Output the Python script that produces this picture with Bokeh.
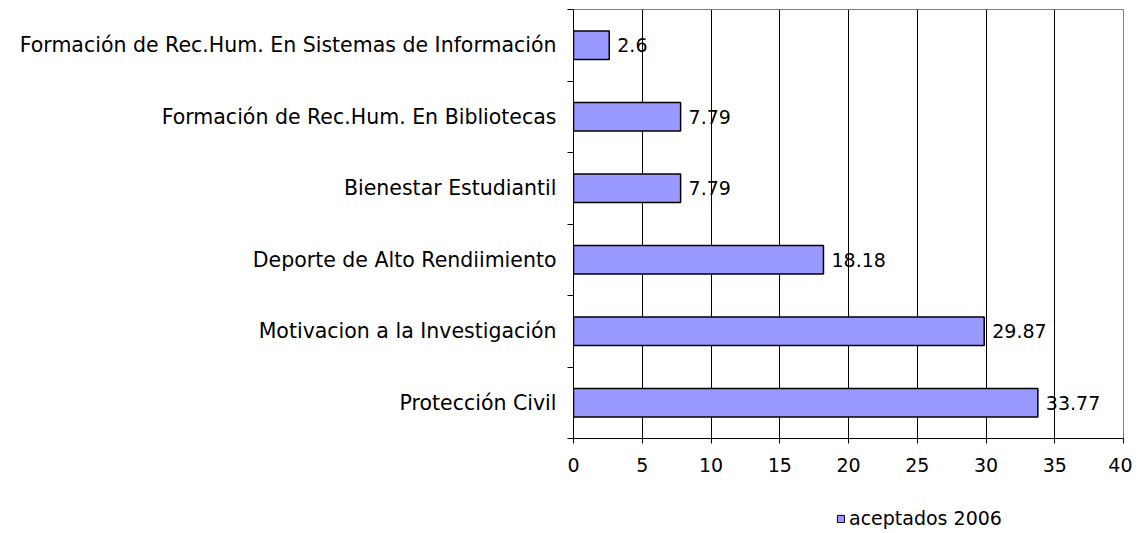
from bokeh.plotting import figure
from bokeh.layouts import column
from bokeh.models import Range1d, FixedTicker, Legend, LegendItem, ColumnDataSource, LinearAxis
from bokeh.embed import file_html
from bokeh.resources import INLINE
from bokeh.core.properties import value

categories = ["Protección Civil", "Motivacion a la Investigación", "Deporte de Alto Rendiimiento",
              "Bienestar Estudiantil", "Formación de Rec.Hum. En Bibliotecas",
              "Formación de Rec.Hum. En Sistemas de Información"]
values = [33.77, 29.87, 18.18, 7.79, 7.79, 2.6]
labels = ["33.77", "29.87", "18.18", "7.79", "7.79", "2.6"]
series_name = "aceptados 2006"
x_ticks = [0, 5, 10, 15, 20, 25, 30, 35, 40]

FONT = "DejaVu Sans"
FS = "19px"
BAR_FILL = "#9999FF"
centers = [i + 0.5 for i in range(len(categories))]
bounds = list(range(len(categories) + 1))

src = ColumnDataSource(dict(y=centers, v=values, lab=labels))

p = figure(width=1132, height=493, output_backend="svg", toolbar_location=None,
           x_range=Range1d(0, 40), y_range=Range1d(0, 6),
           min_border_left=573, min_border_right=9, min_border_top=9, min_border_bottom=55,
           x_axis_location=None, y_axis_location=None)
p.outline_line_color = "#808080"
p.outline_line_width = 1
p.background_fill_color = "white"
p.border_fill_color = "white"

r = p.hbar(y="y", right="v", left=0, height=0.4, source=src, fill_color=BAR_FILL,
           line_color="black", line_width=1.5)
p.text(x="v", y="y", text="lab", source=src, x_offset=8, text_baseline="middle",
       text_align="left", text_font=value(FONT), text_font_size=FS, text_color="black")

xaxis = LinearAxis(ticker=FixedTicker(ticks=x_ticks))
xaxis.axis_line_color = "black"
xaxis.major_tick_line_color = "black"
xaxis.major_tick_out = 5
xaxis.major_tick_in = 0
xaxis.minor_tick_line_color = None
xaxis.major_label_standoff = 14
xaxis.major_label_text_font = FONT
xaxis.major_label_text_font_size = FS
xaxis.major_label_text_color = "black"
p.add_layout(xaxis, "below")

yaxis = LinearAxis(ticker=FixedTicker(ticks=centers, minor_ticks=bounds))
yaxis.major_label_overrides = {c: n for c, n in zip(centers, categories)}
yaxis.axis_line_color = "black"
yaxis.major_tick_line_color = None
yaxis.major_tick_out = 6
yaxis.minor_tick_line_color = "black"
yaxis.minor_tick_out = 6
yaxis.minor_tick_in = 0
yaxis.major_label_standoff = 11
yaxis.major_label_text_font = FONT
yaxis.major_label_text_font_size = "20.5px"
yaxis.major_label_text_color = "black"
p.add_layout(yaxis, "left")

p.xgrid.ticker = FixedTicker(ticks=x_ticks)
p.xgrid.grid_line_color = "black"
p.xgrid.grid_line_width = 1
p.ygrid.grid_line_color = None

# legend strip below the chart (same borders so frames line up);
# its y range lies away from the data so only the legend shows
p2 = figure(width=1132, height=40, output_backend="svg", toolbar_location=None,
            min_border_left=573, min_border_right=9, min_border_top=0, min_border_bottom=0,
            x_axis_location=None, y_axis_location=None,
            x_range=Range1d(0, 40), y_range=Range1d(100, 101))
p2.outline_line_color = None
p2.grid.grid_line_color = None
p2.border_fill_color = "white"
p2.background_fill_color = "white"
r2 = p2.hbar(y="y", right="v", left=0, height=0.4, source=src, fill_color=BAR_FILL,
             line_color="black", line_width=1)
legend = Legend(items=[LegendItem(label=series_name, renderers=[r2], index=0)], location=(263, 4),
                orientation="horizontal", padding=0, margin=0, border_line_color=None,
                background_fill_alpha=0, glyph_width=9, glyph_height=9, label_standoff=4,
                label_text_font=FONT, label_text_font_size=FS, label_text_color="black")
p2.add_layout(legend, "center")

open("out.html", "w").write(file_html(column(p, p2, spacing=0), INLINE))
